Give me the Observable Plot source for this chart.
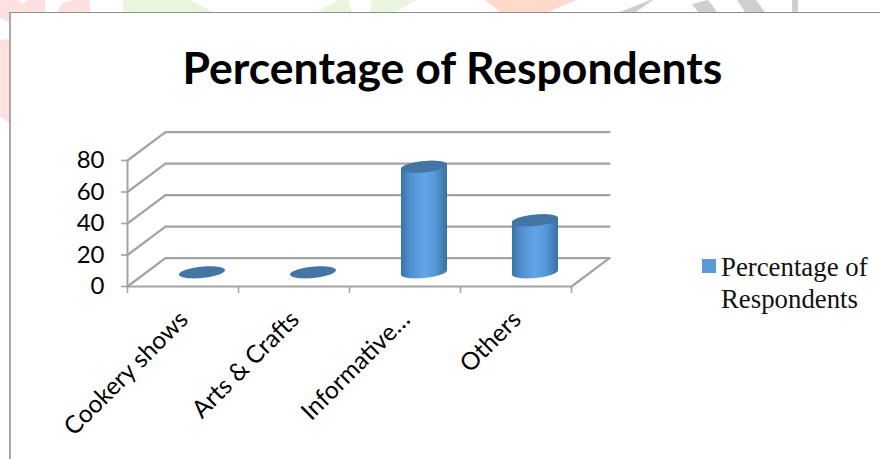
<!DOCTYPE html>
<html>
<head>
<meta charset="utf-8">
<script src="https://cdn.jsdelivr.net/npm/d3@7"></script>
<script src="https://cdn.jsdelivr.net/npm/@observablehq/plot@0.6"></script>
<style>
  html, body { margin: 0; padding: 0; background: #fff; overflow: hidden; }
  #page { position: relative; width: 880px; height: 459px; overflow: hidden; }
  #watermark { position: absolute; left: 0; top: 0; }
  #frame {
    position: absolute; left: 9px; top: 12px; width: 871px; height: 447px;
    box-sizing: border-box; background: #fff;
    border-left: 2px solid #a8a8a8; border-top: 1px solid #8c8c8c;
  }
  #title {
    position: absolute; left: 0; top: 0; width: 871px; height: 107px;
    font: 700 44.5px/107px Lato, sans-serif; color: #000;
    text-align: center; box-sizing: border-box; padding-left: 12px;
  }
  #chart { position: absolute; left: 0; top: 107px; }
  #legend {
    position: absolute; left: 691px; top: 238px; width: 175px;
    font: 26.8px/32px "Liberation Serif", serif; color: #111;
  }
  #legend i {
    position: absolute; left: 0; top: 8px; width: 14px; height: 14px; background: #5b9bd5;
  }
  #legend span { display: block; margin-left: 19px; }
</style>
</head>
<body>
<div id="page">
  <svg id="watermark" width="880" height="459">
    <g fill="#ffe0e0">
      <polygon points="0,0 18,0 22,4 28,0 45,0 45,12 9,12 9,22 0,18"/>
      <polygon points="57,12 63,3 72,0 90,0 90,12"/>
      <polygon points="0,40 9,39 9,123 4,119 0,117"/>
    </g>
    <g fill="#e9f6dd">
      <polygon points="123,0 190,0 213,12 123,12"/>
      <polygon points="317,12 338,0 348,0 352,12"/>
      <polygon points="370,12 372,0 417,0 395,12"/>
    </g>
    <polygon fill="#ffd9cc" points="485,0 577,0 548,12 500,12"/>
    <g fill="#cfcfcf">
      <polygon points="620,12 650,0 653,0 636,12"/>
      <polygon points="692,4 708,0 717,12 698,12"/>
      <polygon points="737,0 756,0 765,12 745,12"/>
      <polygon points="792,0 798,0 798,12 792,12"/>
    </g>
  </svg>
  <div id="frame">
    <div id="title">Percentage of Respondents</div>
    <div id="chart"></div>
    <div id="legend"><i></i><span>Percentage of Respondents</span></div>
  </div>
</div>
<script>
// Survey results: share of respondents per programme type
const categories = ["Cookery shows", "Arts & Crafts", "Informative…", "Others"];
const percentages = [0, 0, 67, 33];
const yTicks = [0, 20, 40, 60, 80];

// Oblique projection of the 3D box, in scale units:
// one unit of depth shifts a point right (in categories) and up (in percent).
const depthX = 0.342;
const depthY = 18;
const barDepth = 0.5;
const radiusX = 0.194;
const radiusDepth = 0.214;

const project = (x, y, depth) => ({x: x + depth * depthX, y: y + depth * depthY});

// Outline of a bar's circular cross-section at height v.
const rim = (i, v, from, to, steps = 48) =>
  d3.range(steps + 1).map((k) => {
    const t = from + (to - from) * k / steps;
    return {
      ...project(i + 0.5 + radiusX * Math.cos(t), v, barDepth + radiusDepth * Math.sin(t)),
      bar: i
    };
  });

const wall = yTicks.flatMap((v) => [
  {...project(0, v, 0), id: `side${v}`},
  {...project(0, v, 1), id: `side${v}`},
  {...project(0, v, 1), id: `back${v}`},
  {...project(4, v, 1), id: `back${v}`}
]);
const floorEdges = [
  {...project(0, 0, 0), id: "front"},
  {...project(4, 0, 0), id: "front"},
  {...project(4, 0, 0), id: "right"},
  {...project(4, 0, 1), id: "right"}
];

// The side of each cylinder: the front half of the rim at the base, then back
// along the top. The silhouette turns where the rim reaches its widest point.
const turn = Math.atan2(radiusDepth * depthX, radiusX);
const bodies = percentages.flatMap((v, i) => v > 0 ? [
  ...rim(i, 0, Math.PI + turn, 2 * Math.PI + turn),
  ...rim(i, v, turn, Math.PI + turn)
] : []);
const tops = percentages.flatMap((v, i) => rim(i, v, 0, 2 * Math.PI));

const gridColor = "#a3a3a3";

const gradient = () => {
  const svgNS = "http://www.w3.org/2000/svg";
  const defs = document.createElementNS(svgNS, "defs");
  const lg = document.createElementNS(svgNS, "linearGradient");
  lg.setAttribute("id", "cylinder");
  [[0, "#3b73aa"], [0.2, "#5190cf"], [0.5, "#60a5e6"], [0.75, "#5596d6"], [1, "#3a6fa3"]].forEach(([o, c]) => {
    const s = document.createElementNS(svgNS, "stop");
    s.setAttribute("offset", o);
    s.setAttribute("stop-color", c);
    lg.appendChild(s);
  });
  defs.appendChild(lg);
  return defs;
};

const chart = Plot.plot({
  width: 680,
  height: 340,
  marginLeft: 116,
  marginRight: 120,
  marginTop: 40,
  marginBottom: 174,
  style: {background: "transparent", overflow: "visible"},
  x: {type: "linear", domain: [0, 4], axis: null},
  y: {domain: [0, 80], axis: null},
  marks: [
    gradient,
    // walls and floor
    Plot.line(wall, {x: "x", y: "y", z: "id", stroke: gridColor, strokeWidth: 2.2}),
    Plot.line(floorEdges, {x: "x", y: "y", z: "id", stroke: gridColor, strokeWidth: 2.2}),
    // value axis
    Plot.axisY(yTicks, {
      anchor: "left", tickSize: 6, tickPadding: 17, stroke: gridColor, strokeWidth: 1.6,
      fontSize: 24, fontFamily: "Lato, sans-serif", fill: "#000", label: null
    }),
    Plot.lineY(yTicks, {x: () => 0, y: (d) => d, stroke: gridColor, strokeWidth: 2}),
    // category axis
    Plot.axisX([0, 1, 2, 3, 4], {
      anchor: "bottom", tickSize: 7, tickFormat: () => "", stroke: gridColor, strokeWidth: 1.6, label: null
    }),
    Plot.text(categories, {
      x: (d, i) => i + 0.5,
      y: 0,
      text: (d) => d,
      rotate: -45,
      textAnchor: "end",
      dx: 1,
      dy: 29,
      fontSize: 24.5,
      fontFamily: "Lato, sans-serif",
      fill: "#000"
    }),
    // cylinders
    Plot.line(bodies, {x: "x", y: "y", z: "bar", fill: "url(#cylinder)", stroke: "none"}),
    Plot.line(tops, {x: "x", y: "y", z: "bar", fill: "#4375a5", stroke: "none"})
  ]
});
document.getElementById("chart").appendChild(chart);
</script>
</body>
</html>
